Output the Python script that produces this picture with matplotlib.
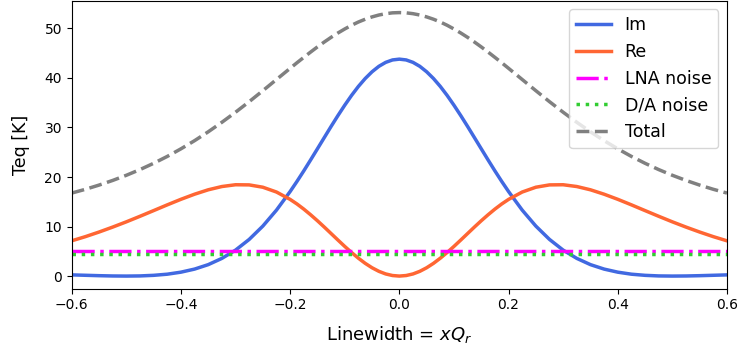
import numpy as np
import matplotlib
matplotlib.use('Agg')
import matplotlib.pyplot as plt

# values, right half (x >= 0); the curves are mirror images
x_half = [0.0, 0.0125, 0.025, 0.0375, 0.05, 0.0625, 0.075, 0.0875, 0.1,
          0.1125, 0.125, 0.1375, 0.15, 0.1625, 0.175, 0.1875, 0.2,
          0.225, 0.25, 0.275, 0.3, 0.325, 0.35, 0.375, 0.4, 0.425, 0.45,
          0.475, 0.5, 0.525, 0.55, 0.575, 0.6]
im_half = [43.80, 43.64, 43.15, 42.35, 41.25, 39.89, 38.29, 36.48, 34.50,
           32.40, 30.21, 27.96, 25.70, 23.45, 21.24, 19.11, 17.07,
           13.32, 10.09, 7.40, 5.24, 3.57, 2.31, 1.41, 0.79, 0.38, 0.15,
           0.03, 0.00, 0.02, 0.08, 0.16, 0.24]
re_half = [0.00, 0.11, 0.43, 0.96, 1.68, 2.57, 3.61, 4.76, 5.99,
           7.28, 8.59, 9.90, 11.17, 12.38, 13.52, 14.56, 15.48,
           16.97, 17.94, 18.41, 18.44, 18.08, 17.42, 16.53, 15.50, 14.38, 13.22,
           12.07, 10.95, 9.89, 8.89, 7.96, 7.12]
lna_noise = 5.0
da_noise = 4.4

x = np.concatenate([-np.array(x_half[:0:-1]), x_half])
im = np.concatenate([im_half[:0:-1], im_half])
re = np.concatenate([re_half[:0:-1], re_half])
lna = np.full_like(x, lna_noise)
da = np.full_like(x, da_noise)
total = im + re + lna + da

fig = plt.figure(figsize=(7.4, 3.53), dpi=100)
ax = fig.add_axes([0.0969, 0.182, 0.8855, 0.816])

ax.plot(x, im, color='#4169E1', lw=2.5, label='Im')
ax.plot(x, re, color='#FF6633', lw=2.5, label='Re')
ax.plot(x, lna, color='#FF00FF', lw=2.5, ls='-.', label='LNA noise')
ax.plot(x, da, color='#32CD32', lw=2.5, ls=':', label='D/A noise')
ax.plot(x, total, color='#808080', lw=2.5, ls='--', label='Total')

ax.set_xlim(-0.6, 0.6)
ax.set_ylim(-2.56, 55.6)
ax.set_xlabel('Linewidth = $xQ_r$', fontsize=13, labelpad=8)
ax.set_ylabel('Teq [K]', fontsize=12.5, labelpad=10)
ax.legend(loc='upper right', fontsize=12.5)

fig.savefig('out.png', dpi=100)
